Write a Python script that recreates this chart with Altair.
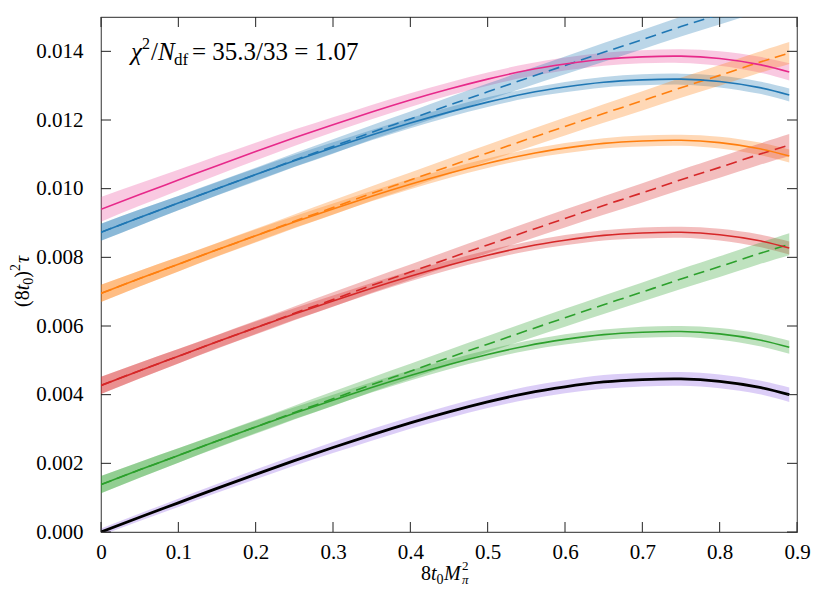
import altair as alt
import pandas as pd

# ---------------- data ----------------
x_vals = [0.0, 0.05, 0.1, 0.15, 0.2, 0.25, 0.3, 0.35, 0.4, 0.45, 0.5,
          0.55, 0.6, 0.65, 0.7, 0.75, 0.8, 0.85, 0.89]

pink_solid = [0.00940, 0.00983, 0.01025, 0.01067, 0.01108, 0.01148, 0.01186, 0.01223, 0.01258, 0.01290,
              0.01319, 0.01344, 0.01363, 0.01377, 0.01384, 0.01386, 0.01379, 0.01362, 0.01340]
blue_solid = [0.00873, 0.00916, 0.00958, 0.01000, 0.01041, 0.01081, 0.01119, 0.01156, 0.01191, 0.01223,
              0.01252, 0.01277, 0.01296, 0.01310, 0.01317, 0.01319, 0.01312, 0.01295, 0.01273]
orange_solid = [0.00695, 0.00738, 0.00780, 0.00822, 0.00863, 0.00903, 0.00941, 0.00978, 0.01013, 0.01045,
                0.01074, 0.01099, 0.01118, 0.01132, 0.01139, 0.01141, 0.01134, 0.01117, 0.01095]
red_solid = [0.00427, 0.00470, 0.00512, 0.00554, 0.00595, 0.00635, 0.00673, 0.00710, 0.00745, 0.00777,
             0.00806, 0.00831, 0.00850, 0.00864, 0.00871, 0.00873, 0.00866, 0.00849, 0.00827]
green_solid = [0.00138, 0.00181, 0.00223, 0.00265, 0.00306, 0.00346, 0.00384, 0.00421, 0.00456, 0.00488,
               0.00517, 0.00542, 0.00561, 0.00575, 0.00582, 0.00584, 0.00577, 0.00560, 0.00538]
black_solid = [0.00000, 0.00043, 0.00085, 0.00127, 0.00168, 0.00208, 0.00246, 0.00283, 0.00318, 0.00350,
               0.00379, 0.00404, 0.00423, 0.00437, 0.00444, 0.00446, 0.00439, 0.00422, 0.00400]

blue_dashed = [0.00873, 0.00916, 0.00958, 0.01000, 0.01041, 0.01083, 0.01123, 0.01164, 0.01203, 0.01243,
               0.01282, 0.01321, 0.01359, 0.01397, 0.01434, 0.01472, 0.01508, 0.01545, 0.01573]
orange_dashed = [0.00695, 0.00738, 0.00780, 0.00822, 0.00863, 0.00905, 0.00945, 0.00986, 0.01025, 0.01065,
                 0.01104, 0.01143, 0.01181, 0.01219, 0.01256, 0.01294, 0.01330, 0.01367, 0.01395]
red_dashed = [0.00427, 0.00470, 0.00512, 0.00554, 0.00595, 0.00637, 0.00677, 0.00718, 0.00757, 0.00797,
              0.00836, 0.00875, 0.00913, 0.00951, 0.00988, 0.01026, 0.01062, 0.01099, 0.01127]
green_dashed = [0.00138, 0.00181, 0.00223, 0.00265, 0.00306, 0.00348, 0.00388, 0.00429, 0.00468, 0.00508,
                0.00547, 0.00586, 0.00624, 0.00662, 0.00699, 0.00737, 0.00773, 0.00810, 0.00838]

# band half-widths
pink_err = [0.00036, 0.00033, 0.00030, 0.00028, 0.00026, 0.00024, 0.00022, 0.00021, 0.00020, 0.00019,
            0.00019, 0.00019, 0.00019, 0.00019, 0.00019, 0.00020, 0.00021, 0.00023, 0.00025]
solid_err = [0.00025, 0.00023, 0.00021, 0.00019, 0.00018, 0.00017, 0.00016, 0.00015, 0.00015, 0.00014,
             0.00014, 0.00014, 0.00015, 0.00015, 0.00016, 0.00016, 0.00017, 0.00018, 0.00019]
black_err = [0.00010, 0.00011, 0.00012, 0.00013, 0.00014, 0.00015, 0.00016, 0.00017, 0.00017, 0.00018,
             0.00018, 0.00019, 0.00019, 0.00020, 0.00020, 0.00020, 0.00020, 0.00020, 0.00021]
dashed_err = [0.00025, 0.00023, 0.00021, 0.00020, 0.00020, 0.00020, 0.00021, 0.00021, 0.00022, 0.00023,
              0.00024, 0.00025, 0.00026, 0.00027, 0.00028, 0.00029, 0.00030, 0.00031, 0.00032]

x_ticks = [0.0, 0.1, 0.2, 0.3, 0.4, 0.5, 0.6, 0.7, 0.8, 0.9]
y_ticks = [0.0, 0.002, 0.004, 0.006, 0.008, 0.010, 0.012, 0.014]

# ---------------- styling ----------------
line_col = {"pink": "#e7298a", "blue": "#1f77b4", "orange": "#ff7f0e",
            "red": "#d62728", "green": "#2ca02c", "black": "#000000"}
band_col = {"pink": "#ea4c9c", "blue": "#1f77b4", "orange": "#ff7f0e",
            "red": "#d62728", "green": "#2ca02c", "black": "#8a5ce6"}

series = [
    ("pink", "solid", pink_solid, pink_err),
    ("blue", "dashed", blue_dashed, dashed_err),
    ("blue", "solid", blue_solid, solid_err),
    ("orange", "dashed", orange_dashed, dashed_err),
    ("orange", "solid", orange_solid, solid_err),
    ("red", "dashed", red_dashed, dashed_err),
    ("red", "solid", red_solid, solid_err),
    ("green", "dashed", green_dashed, dashed_err),
    ("green", "solid", green_solid, solid_err),
    ("black", "solid", black_solid, black_err),
]

rows = []
for name, style, ys, errs in series:
    for xv, yv, ev in zip(x_vals, ys, errs):
        rows.append({"key": f"{name}_{style}", "name": name, "style": style,
                     "x": xv, "y": yv, "lo": yv - ev, "hi": yv + ev,
                     "lc": line_col[name], "bc": band_col[name]})
df = pd.DataFrame(rows)

W, H = 696, 515
FONT = "Liberation Serif"
INTERP = "natural"

xscale = alt.Scale(domain=[0, 0.9], nice=False, zero=False)
yscale = alt.Scale(domain=[0, 0.015], nice=False, zero=False)
xaxis = alt.Axis(values=x_ticks, labelExpr="datum.value == 0 ? '0' : format(datum.value, '.1f')",
                 ticks=False, tickSize=0, domain=False, grid=False, labelFont=FONT, labelFontSize=21,
                 labelColor="#000000", labelPadding=9, labelFlush=False, labelOverlap=False, title=None)
yaxis = alt.Axis(values=y_ticks, format=".3f", ticks=False, tickSize=0, domain=False, grid=False,
                 labelFont=FONT, labelFontSize=21, labelColor="#000000", labelPadding=18,
                 labelFlush=False, labelOverlap=False, title=None)


def X(f):
    return alt.X(f, scale=xscale, axis=xaxis, title=None)


def Y(f):
    return alt.Y(f, scale=yscale, axis=yaxis, title=None)


bands = alt.Chart(df).mark_area(opacity=0.3, interpolate=INTERP, clip=True).encode(
    x=X("x:Q"), y=Y("lo:Q"), y2="hi:Q",
    color=alt.Color("bc:N", scale=None), detail="key:N")

dashed = alt.Chart(df[df["style"] == "dashed"]).mark_line(
    strokeWidth=1.6, strokeDash=[11, 6], interpolate=INTERP, clip=True).encode(
    x=X("x:Q"), y=Y("y:Q"), color=alt.Color("lc:N", scale=None), detail="key:N")

solid = alt.Chart(df[(df["style"] == "solid") & (df["name"] != "black")]).mark_line(
    strokeWidth=1.6, interpolate=INTERP, clip=True).encode(
    x=X("x:Q"), y=Y("y:Q"), color=alt.Color("lc:N", scale=None), detail="key:N")

black = alt.Chart(df[df["name"] == "black"]).mark_line(
    strokeWidth=2.8, interpolate=INTERP, clip=True).encode(
    x=X("x:Q"), y=Y("y:Q"), color=alt.Color("lc:N", scale=None))

# inward ticks on all four sides
xt = pd.DataFrame({"t": x_ticks})
yt = pd.DataFrame({"t": y_ticks})
tick_style = dict(color="#222222", strokeWidth=1)
xt_bot = alt.Chart(xt).mark_rule(**tick_style).encode(x=X("t:Q"), y=alt.value(H), y2=alt.value(H - 10))
xt_top = alt.Chart(xt).mark_rule(**tick_style).encode(x=X("t:Q"), y=alt.value(0), y2=alt.value(10))
yt_left = alt.Chart(yt).mark_rule(**tick_style).encode(y=Y("t:Q"), x=alt.value(0), x2=alt.value(10))
yt_right = alt.Chart(yt).mark_rule(**tick_style).encode(y=Y("t:Q"), x=alt.value(W - 10), x2=alt.value(W))

one = pd.DataFrame({"a": [0]})


def txt(s, x, y, size, style="normal", angle=0, align="left"):
    kw = dict(align=align, baseline="alphabetic", font=FONT, fontSize=size,
              fontStyle=style, color="#000000")
    if angle:
        kw["angle"] = angle
    return alt.Chart(one).mark_text(**kw).encode(
        x=alt.value(x), y=alt.value(y), text=alt.value(s))


texts = [
    # chi^2 annotation
    txt("χ", 30, 43, 25, "italic"),
    txt("2", 41, 32, 16),
    txt("/", 50, 43, 25),
    txt("N", 57, 43, 25, "italic"),
    txt("df", 73, 48, 17),
    txt("= 35.3/33 = 1.07", 91, 43, 25),
    # x-axis title 8 t_0 M_pi^2
    txt("8", 320, 563, 20),
    txt("t", 330, 563, 20, "italic"),
    txt("0", 335.6, 567, 14),
    txt("M", 343, 563, 20, "italic"),
    txt("2", 361, 553, 13),
    txt("π", 361, 567, 13, "italic"),
    # y-axis title (8 t_0)^2 tau, rotated
    txt("(8", -72, 290, 20, angle=270),
    txt("t", -72, 273.3, 20, "italic", angle=270),
    txt("0", -68, 267.7, 14, angle=270),
    txt(")", -72, 260.7, 20, angle=270),
    txt("2", -81, 254, 14, angle=270),
    txt("τ", -72, 246, 20, "italic", angle=270),
]

chart = alt.layer(bands, dashed, solid, black, xt_bot, xt_top, yt_left, yt_right, *texts).properties(
    width=W, height=H,
    autosize=alt.AutoSizeParams(type="none"),
    padding={"left": 93, "top": 9, "right": 25, "bottom": 56},
    background="#ffffff",
).configure_view(stroke="#555555", strokeWidth=1.2)

chart.save("out.html", embed_options={"renderer": "svg", "actions": False})
